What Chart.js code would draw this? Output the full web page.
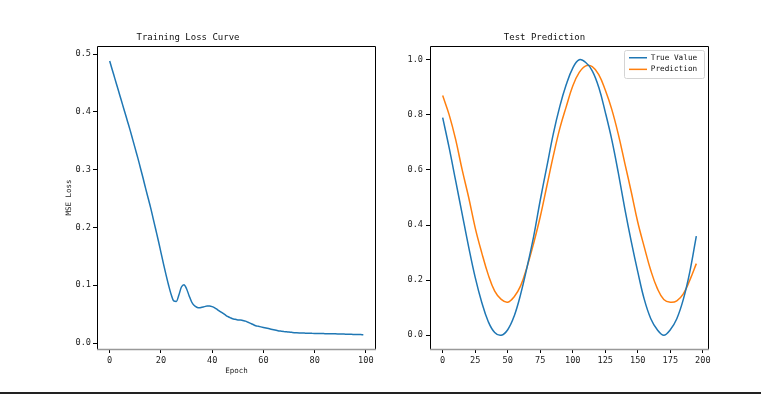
<!DOCTYPE html>
<html>
<head>
<meta charset="utf-8">
<script src="https://cdn.jsdelivr.net/npm/chart.js@4/dist/chart.umd.min.js"></script>
<style>
  html, body { margin: 0; padding: 0; background: #fff; }
  #wrap { position: relative; width: 761px; height: 394px; overflow: hidden; }
  #wrap canvas { position: absolute; left: 0; top: 0; }
  #rule { position: absolute; left: 0; right: 0; bottom: 0; height: 2px; background: #222; }
</style>
</head>
<body>
<div id="wrap">
  <canvas id="loss-chart" width="761" height="394"></canvas>
  <canvas id="pred-chart" width="761" height="394"></canvas>
  <div id="rule"></div>
</div>
<script>
// ---- data ----
const lossValues = [
  0.488, 0.473, 0.458, 0.443, 0.428, 0.413, 0.398, 0.383, 0.368, 0.352,
  0.336, 0.320, 0.303, 0.286, 0.268, 0.251, 0.234, 0.215, 0.196, 0.177,
  0.157, 0.137, 0.118, 0.100, 0.084, 0.073, 0.072, 0.083, 0.097, 0.101,
  0.094, 0.082, 0.071, 0.065, 0.062, 0.061, 0.062, 0.063, 0.064, 0.064,
  0.063, 0.061, 0.058, 0.055, 0.052, 0.049, 0.046, 0.044, 0.042, 0.041,
  0.040, 0.040, 0.039, 0.038, 0.036, 0.034, 0.032, 0.030, 0.029, 0.028,
  0.027, 0.026, 0.025, 0.024, 0.023, 0.022, 0.021, 0.0205, 0.020, 0.0195,
  0.019, 0.0185, 0.018, 0.0178, 0.0176, 0.0174, 0.0172, 0.017, 0.0169, 0.0168,
  0.0167, 0.0166, 0.0165, 0.0164, 0.0163, 0.0162, 0.0161, 0.016, 0.0159, 0.0158,
  0.0157, 0.0155, 0.0154, 0.0152, 0.0151, 0.015, 0.0148, 0.0147, 0.0146, 0.0145
];
const epochs = lossValues.map((_, i) => i);

// test set, sampled every 5 steps
const trueValue = [
  0.79, 0.68, 0.56, 0.44, 0.32, 0.21, 0.12, 0.05, 0.01, 0.00,
  0.02, 0.07, 0.15, 0.25, 0.36, 0.49, 0.61, 0.73, 0.83, 0.91,
  0.97, 1.00, 0.99, 0.96, 0.90, 0.81, 0.71, 0.59, 0.46, 0.34,
  0.23, 0.13, 0.06, 0.02, 0.00, 0.02, 0.06, 0.13, 0.23, 0.36
];
const prediction = [
  0.87, 0.80, 0.71, 0.60, 0.50, 0.39, 0.30, 0.22, 0.16, 0.13,
  0.12, 0.14, 0.18, 0.25, 0.335, 0.43, 0.54, 0.65, 0.75, 0.83,
  0.905, 0.954, 0.978, 0.975, 0.946, 0.89, 0.82, 0.73, 0.625, 0.52,
  0.41, 0.32, 0.235, 0.17, 0.13, 0.12, 0.125, 0.15, 0.20, 0.26
];
const steps = trueValue.map((_, i) => i * 5);

const BLUE = '#1f77b4', ORANGE = '#ff7f0e';
const MONO = "'DejaVu Sans Mono', monospace";

Chart.defaults.font.family = MONO;
Chart.defaults.color = '#222';
Chart.defaults.animation = false;

// matplotlib-like box round the axes
const framePlugin = {
  id: 'frame',
  afterDatasetsDraw(chart) {
    const { ctx, chartArea: a } = chart;
    ctx.save();
    ctx.strokeStyle = '#000';
    ctx.lineWidth = 1;
    ctx.beginPath();
    ctx.moveTo(a.left + 0.5, a.bottom);
    ctx.lineTo(a.left + 0.5, a.top + 0.5);
    ctx.lineTo(a.right - 0.5, a.top + 0.5);
    ctx.lineTo(a.right - 0.5, a.bottom);
    ctx.stroke();
    ctx.strokeStyle = '#999';
    ctx.lineWidth = 1.5;
    ctx.beginPath();
    ctx.moveTo(a.left, a.bottom + 0.5);
    ctx.lineTo(a.right, a.bottom + 0.5);
    ctx.stroke();
    ctx.restore();
  }
};

// legend drawn inside the plot, upper right, with a light frame
const legendPlace = {
  id: 'legendPlace',
  afterLayout(chart) {
    const lg = chart.legend, a = chart.chartArea;
    lg.left = a.right - 80 - 3.9;
    lg.top = a.top + 4;
  },
  beforeDraw(chart) {
    const { ctx, chartArea: a } = chart;
    ctx.save();
    ctx.fillStyle = 'rgba(255,255,255,0.85)';
    ctx.strokeStyle = '#d4d4d4';
    ctx.lineWidth = 1;
    ctx.beginPath();
    ctx.roundRect(a.right - 84.5, a.top + 4.5, 80, 28, 2);
    ctx.fill();
    ctx.stroke();
    ctx.restore();
  }
};

const tickGrid = { drawOnChartArea: false, drawTicks: true, tickLength: 4, tickColor: '#000', tickWidth: 1 };

function lineSet(label, xs, ys, color, smooth) {
  return {
    label, data: xs.map((x, i) => ({ x, y: ys[i] })),
    borderColor: color, backgroundColor: color, borderWidth: 1.5,
    pointRadius: 0, fill: false, ...smooth
  };
}

new Chart(document.getElementById('loss-chart'), {
  type: 'line',
  data: { datasets: [lineSet('Loss', epochs, lossValues, BLUE, { cubicInterpolationMode: 'monotone' })] },
  options: {
    responsive: false,
    layout: { padding: { left: 0, right: 385, top: 32.6, bottom: 0 } },
    plugins: {
      legend: { display: false },
      tooltip: { enabled: false },
      title: { display: true, text: 'Training Loss Curve', color: '#111',
               font: { family: MONO, size: 9, weight: 'normal' }, padding: { top: 0, bottom: 2.6 } },
    },
    scales: {
      x: { type: 'linear', min: -4.95, max: 103.95,
           grid: tickGrid, border: { display: false },
           ticks: { stepSize: 20, includeBounds: false, maxRotation: 0, autoSkip: false, padding: 3,
                    font: { size: 8.6 }, callback: v => v },
           title: { display: true, text: 'Epoch', font: { size: 7.5 }, padding: { top: 0, bottom: 18.8 } },
           afterFit: s => { s.height = 45; } },
      y: { min: -0.0103, max: 0.514,
           grid: tickGrid, border: { display: false },
           ticks: { stepSize: 0.1, includeBounds: false, padding: 2, font: { size: 8.6 },
                    callback: v => v.toFixed(1) },
           title: { display: true, text: 'MSE Loss', font: { size: 7.5 }, padding: { top: 65, bottom: 0 } },
           afterFit: s => { s.width = 97; } },
    },
  },
  plugins: [framePlugin],
});

new Chart(document.getElementById('pred-chart'), {
  type: 'line',
  data: {
    datasets: [
      lineSet('True Value', steps, trueValue, BLUE, { tension: 0.4 }),
      lineSet('Prediction', steps, prediction, ORANGE, { tension: 0.4 }),
    ],
  },
  options: {
    responsive: false,
    layout: { padding: { left: 380, right: 52, top: 32.6, bottom: 0 } },
    plugins: {
      legend: { position: 'chartArea', align: 'start',
                labels: { usePointStyle: true, pointStyle: 'line', pointStyleWidth: 18, padding: 3.9,
                          color: '#111', font: { size: 7.7 } } },
      tooltip: { enabled: false },
      title: { display: true, text: 'Test Prediction', color: '#111',
               font: { family: MONO, size: 9, weight: 'normal' }, padding: { top: 0, bottom: 2.6 } },
    },
    scales: {
      x: { type: 'linear', min: -9.75, max: 204.75,
           grid: tickGrid, border: { display: false },
           ticks: { stepSize: 25, includeBounds: false, maxRotation: 0, autoSkip: false, padding: 3,
                    font: { size: 8.6 }, callback: v => v },
           afterFit: s => { s.height = 45; } },
      y: { min: -0.05, max: 1.05,
           grid: tickGrid, border: { display: false },
           ticks: { stepSize: 0.2, includeBounds: false, padding: 3, font: { size: 8.6 },
                    callback: v => v.toFixed(1) },
           afterFit: s => { s.width = 50; } },
    },
  },
  plugins: [framePlugin, legendPlace],
});
</script>
</body>
</html>
